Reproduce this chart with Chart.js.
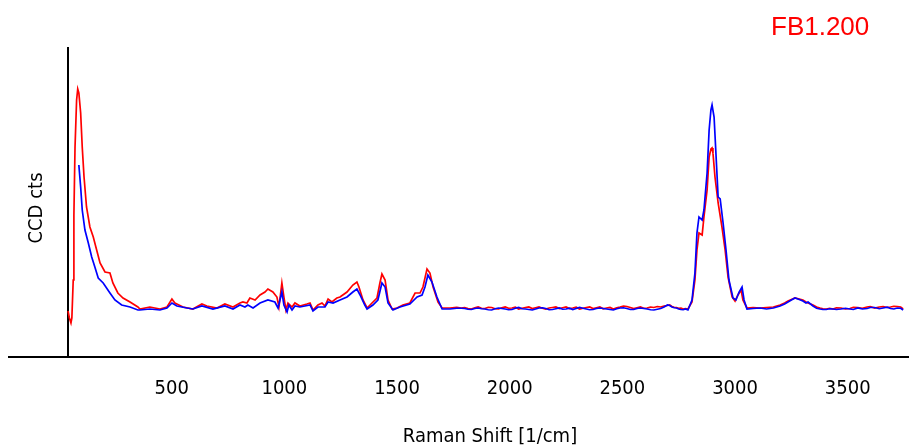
<!DOCTYPE html>
<html>
<head>
<meta charset="utf-8">
<script src="https://cdn.jsdelivr.net/npm/chart.js@4/dist/chart.umd.min.js"></script>
<style>
  html, body { margin: 0; padding: 0; background: #ffffff; }
  #wrap { width: 909px; height: 448px; position: relative; }
</style>
</head>
<body>
<div id="wrap"><canvas id="c" width="909" height="448"></canvas></div>
<script>
// Raman spectrum of sample FB1.200: two acquisitions (red, blue), CCD counts vs shift
const sampleName = "FB1.200";
const xTitle = "Raman Shift [1/cm]";
const yTitle = "CCD cts";
const tickValues = [500, 1000, 1500, 2000, 2500, 3000, 3500];

// red acquisition
const redLowShift = [40, 46, 53, 57, 63, 66, 71, 78, 83, 88, 96, 103, 111, 122, 137, 152, 167, 182, 204, 226, 239, 261, 284, 315, 350,
  359, 403, 425, 448, 479, 501, 514, 550, 594, 634, 656, 701, 736, 772, 803, 816, 834, 847, 870, 892, 914, 927, 949, 967, 976, 989, 998,
  1007, 1016, 1034, 1047, 1069, 1100, 1114, 1127, 1149, 1167, 1180, 1194, 1211, 1233, 1247, 1278, 1304, 1322, 1331, 1349, 1367, 1389,
  1411, 1424, 1433, 1447, 1460, 1478, 1500, 1526, 1557, 1580, 1602, 1615, 1633, 1646, 1660, 1682, 1700, 1735, 1765];
const redLowCounts = [920, 780, 680, 780, 1540, 2840, 4200, 5140, 5360, 5280, 4880, 4200, 3600, 3000, 2600, 2400, 2140, 1880, 1700, 1680, 1480, 1280, 1180, 1100, 1000,
  960, 1000, 980, 960, 1000, 1160, 1080, 1000, 960, 1060, 1020, 980, 1060, 1000, 1080, 1100, 1080, 1180, 1140, 1240, 1300, 1360, 1300, 1200, 1000, 1480, 1200,
  940, 1080, 1000, 1080, 1020, 1060, 1080, 940, 1040, 1080, 1020, 1160, 1100, 1180, 1200, 1300, 1440, 1500, 1400, 1140, 980, 1080,
  1180, 1480, 1660, 1540, 1140, 960, 980, 1040, 1080, 1280, 1280, 1400, 1760, 1680, 1400, 1100, 980, 980, 995];
const redMidShift = [1785, 1800, 1815, 1830, 1845, 1860, 1875, 1890, 1905, 1920, 1935, 1950, 1965, 1980, 1995, 2010, 2025, 2040, 2055, 2070,
  2085, 2100, 2115, 2130, 2145, 2160, 2175, 2190, 2205, 2220, 2235, 2250, 2265, 2280, 2295, 2310, 2325, 2340, 2355, 2370, 2385, 2400,
  2415, 2430, 2445, 2460, 2475, 2490, 2505, 2520, 2535, 2550, 2565, 2580, 2595, 2610, 2625, 2640, 2655, 2670, 2685, 2700, 2710, 2720,
  2730, 2740, 2750, 2760, 2770, 2780];
const redMidCounts = [980, 990, 970, 960, 985, 1000, 975, 970, 995, 990, 965, 960, 985, 1000, 975, 980, 995, 960, 975, 990,
  1000, 970, 985, 1000, 975, 960, 980, 990, 1000, 970, 985, 1000, 970, 980, 995, 960, 975, 990, 1000, 970, 985, 1000,
  965, 980, 990, 960, 985, 1000, 1020, 1010, 990, 970, 985, 1000, 975, 980, 1000, 990, 1010, 1000, 1020, 1030, 1040, 1010,
  995, 990, 975, 980, 960, 970];
const redHighShift = [2791, 2809, 2822, 2831, 2840, 2854, 2862, 2876, 2885, 2893, 2898, 2902, 2911, 2925, 2942, 2956, 2969, 2987, 3000, 3013, 3027, 3035,
  3053, 3080, 3111, 3140, 3170, 3200, 3220, 3235, 3250, 3266, 3285, 3301, 3315, 3324, 3346, 3362, 3377, 3390, 3405, 3420, 3435, 3450,
  3470, 3490, 3510, 3525, 3545, 3565, 3586, 3600, 3620, 3640, 3657, 3675, 3690, 3705, 3720, 3735, 3746];
const redHighCounts = [960, 1100, 1540, 2140, 2480, 2440, 2800, 3340, 4000, 4160, 4180, 4080, 3600, 3080, 2600, 2140, 1600, 1200, 1120, 1240, 1340, 1140,
  980, 990, 980, 990, 1000, 1040, 1080, 1120, 1150, 1180, 1160, 1140, 1100, 1080, 1040, 1000, 980, 965, 960, 975, 960, 985,
  980, 960, 970, 995, 990, 975, 1000, 1010, 980, 1000, 1010, 990, 1000, 1015, 1010, 1000, 960];

// blue acquisition
const blueLowShift = [88, 96, 103, 115, 130, 145, 159, 174, 196, 226, 248, 278, 315, 350,
  359, 403, 448, 479, 501, 523, 568, 594, 634, 683, 736, 772, 803, 825, 838, 861, 892, 927, 958, 972, 989, 998, 1012, 1020, 1034,
  1047, 1069, 1114, 1127, 1149, 1180, 1194, 1216, 1247, 1278, 1304, 1322, 1336, 1357, 1367, 1393, 1415, 1433, 1447, 1460, 1482,
  1513, 1557, 1589, 1611, 1624, 1637, 1655, 1677, 1700, 1735, 1765];
const blueLowCounts = [3840, 3400, 2940, 2540, 2280, 2000, 1800, 1580, 1480, 1280, 1140, 1040, 1000, 940,
  940, 960, 940, 980, 1080, 1020, 980, 960, 1020, 960, 1020, 960, 1040, 1000, 1040, 980, 1080, 1140, 1100, 980, 1300, 1040, 900, 1040, 940,
  1020, 1000, 1040, 920, 1000, 1000, 1100, 1080, 1140, 1200, 1300, 1360, 1240, 1040, 960, 1040, 1140, 1480, 1400, 1080, 940,
  1000, 1060, 1200, 1240, 1400, 1640, 1500, 1200, 960, 960, 975];
const blueMidShift = redMidShift;
const blueMidCounts = [975, 970, 955, 950, 970, 980, 965, 960, 945, 940, 965, 980, 970, 960, 945, 950, 975, 990, 965, 960,
  950, 940, 960, 980, 985, 970, 945, 950, 965, 980, 955, 960, 975, 950, 970, 990, 975, 960, 945, 950, 970, 980,
  970, 960, 950, 940, 965, 980, 985, 970, 950, 950, 970, 980, 970, 960, 945, 940, 955, 970, 1000, 1040, 1030, 1000,
  985, 980, 960, 950, 945, 960];
const blueHighShift = [2791, 2809, 2822, 2831, 2840, 2854, 2862, 2876, 2885, 2893, 2898, 2907, 2916, 2925, 2934, 2947, 2960, 2973, 2991, 3004, 3018, 3031,
  3040, 3053, 3080, 3111, 3140, 3170, 3200, 3220, 3235, 3250, 3266, 3285, 3301, 3315, 3324, 3346, 3362, 3377, 3390, 3405, 3420, 3435, 3450,
  3470, 3490, 3510, 3525, 3545, 3565, 3586, 3600, 3620, 3640, 3657, 3675, 3690, 3705, 3720, 3735, 3746];
const blueHighCounts = [940, 1140, 1680, 2480, 2800, 2740, 2940, 3680, 4540, 4940, 5040, 4800, 4000, 3200, 3160, 2680, 2140, 1540, 1180, 1140, 1300, 1400,
  1140, 960, 970, 980, 960, 980, 1020, 1060, 1100, 1140, 1180, 1150, 1120, 1080, 1100, 1020, 975, 960, 950, 950, 965, 960, 950,
  960, 975, 960, 950, 980, 960, 970, 990, 990, 965, 980, 995, 970, 960, 980, 975, 940];

function toPoints(xs, ys) {
  return xs.map((x, i) => ({ x: x, y: ys[i] }));
}

const redPoints = [].concat(
  toPoints(redLowShift, redLowCounts),
  toPoints(redMidShift, redMidCounts),
  toPoints(redHighShift, redHighCounts)
);
const bluePoints = [].concat(
  toPoints(blueLowShift, blueLowCounts),
  toPoints(blueMidShift, blueMidCounts),
  toPoints(blueHighShift, blueHighCounts)
);

const labelFont = "'DejaVu Sans Condensed', 'DejaVu Sans', sans-serif";

// Titles and the sample name are painted on the canvas after the chart
const textPlugin = {
  id: 'spectrumText',
  afterDraw(chart) {
    const ctx = chart.ctx;
    ctx.save();
    ctx.fillStyle = '#ff0000';
    ctx.font = "26px 'Liberation Sans', Arial, sans-serif";
    ctx.textAlign = 'left';
    ctx.textBaseline = 'alphabetic';
    ctx.fillText(sampleName, 771, 35);

    ctx.fillStyle = '#000000';
    ctx.font = "20px " + labelFont;
    ctx.textAlign = 'center';
    ctx.textBaseline = 'middle';
    ctx.fillText(xTitle, 490, 437);

    ctx.translate(37, 208);
    ctx.rotate(-Math.PI / 2);
    ctx.fillText(yTitle, 0, 0);
    ctx.restore();
  }
};

new Chart(document.getElementById('c'), {
  type: 'line',
  data: {
    datasets: [
      {
        label: 'red',
        data: redPoints,
        borderColor: '#ff0000',
        borderWidth: 1.7,
        pointRadius: 0,
        fill: false,
        tension: 0,
        order: 2
      },
      {
        label: 'blue',
        data: bluePoints,
        borderColor: '#0000ff',
        borderWidth: 1.7,
        pointRadius: 0,
        fill: false,
        tension: 0,
        order: 1
      }
    ]
  },
  options: {
    responsive: false,
    animation: false,
    layout: { padding: { left: 9, right: 0, top: 48, bottom: 27 } },
    plugins: {
      legend: { display: false },
      tooltip: { enabled: false }
    },
    scales: {
      x: {
        type: 'linear',
        min: -222,
        max: 3772,
        grid: { display: false, drawTicks: false },
        border: { display: true, color: '#000000', width: 2 },
        afterBuildTicks(scale) {
          scale.ticks = tickValues.map(v => ({ value: v }));
        },
        ticks: {
          includeBounds: false,
          padding: 20,
          color: '#000000',
          font: { family: labelFont, size: 20 },
          maxRotation: 0,
          autoSkip: false,
          callback: v => String(v)
        }
      },
      y: {
        type: 'linear',
        position: { x: 40 },
        min: 0,
        max: 6180,
        grid: { display: false, drawTicks: false },
        border: { display: true, color: '#000000', width: 2 },
        ticks: { display: false }
      }
    }
  },
  plugins: [textPlugin]
});
</script>
</body>
</html>
